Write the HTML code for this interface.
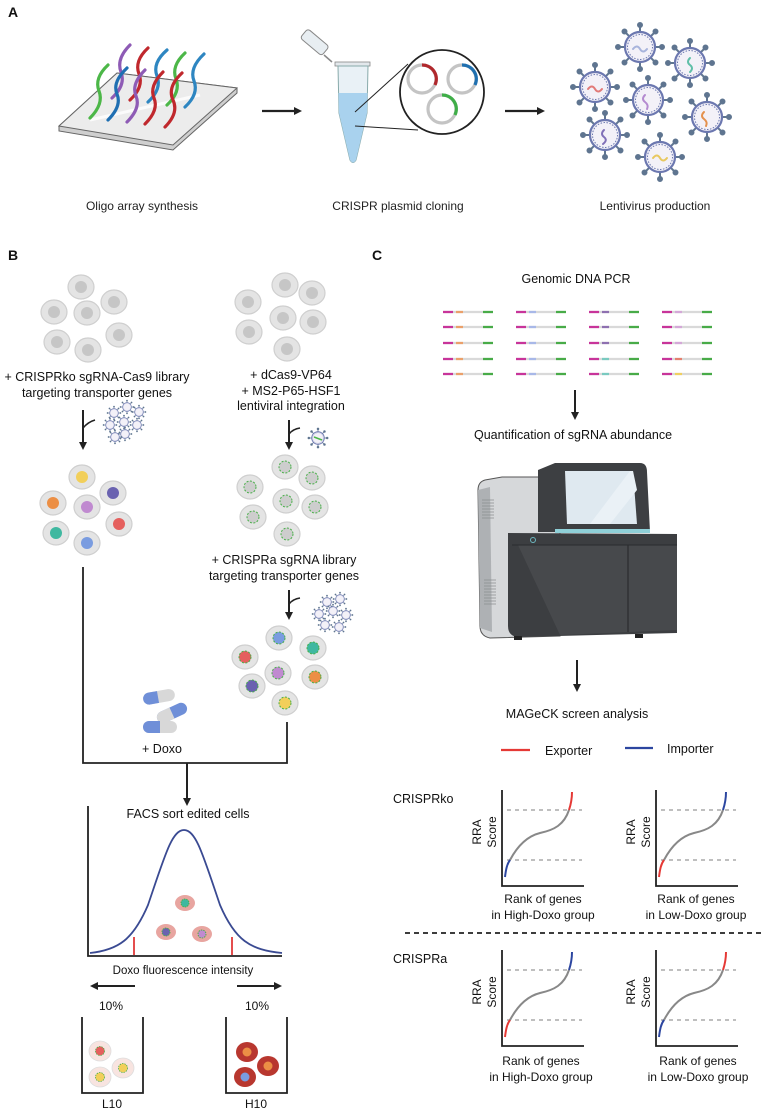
<!DOCTYPE html>
<html><head><meta charset="utf-8"><style>
html,body{margin:0;padding:0;background:#fff;}
svg{display:block;font-family:"Liberation Sans",sans-serif;}
</style></head><body>
<svg width="762" height="1110" viewBox="0 0 762 1110" xmlns="http://www.w3.org/2000/svg">
<defs>
<marker id="ah" markerWidth="8" markerHeight="8" refX="4" refY="4" orient="auto" markerUnits="userSpaceOnUse">
<path d="M0,0 L8,4 L0,8 Z" fill="#222"/></marker>
<symbol id="vir" viewBox="-24 -24 48 48" overflow="visible">
<g stroke="#5f7590" stroke-width="2" fill="#5f7590">
<line x1="0" y1="-15" x2="0" y2="-21"/><line x1="0" y1="15" x2="0" y2="21"/>
<line x1="-15" y1="0" x2="-21" y2="0"/><line x1="15" y1="0" x2="21" y2="0"/>
<line x1="10.6" y1="10.6" x2="15" y2="15"/><line x1="-10.6" y1="10.6" x2="-15" y2="15"/>
<line x1="10.6" y1="-10.6" x2="15" y2="-15"/><line x1="-10.6" y1="-10.6" x2="-15" y2="-15"/>
<circle cx="0" cy="-22" r="2"/><circle cx="0" cy="22" r="2"/><circle cx="-22" cy="0" r="2"/><circle cx="22" cy="0" r="2"/>
<circle cx="15.5" cy="15.5" r="2"/><circle cx="-15.5" cy="15.5" r="2"/><circle cx="15.5" cy="-15.5" r="2"/><circle cx="-15.5" cy="-15.5" r="2"/>
</g>
<circle r="15" fill="#f3f1f8" stroke="#6c78b0" stroke-width="2.2"/>
<circle r="12.5" fill="none" stroke="#6c78b0" stroke-width="1" stroke-dasharray="1.5,1.5"/>
</symbol>
<symbol id="cell" viewBox="-14 -13 28 26" overflow="visible">
<ellipse rx="13" ry="12" fill="#e4e4e4" stroke="#cfcfcf" stroke-width="1.2"/>
</symbol>
</defs>

<g font-weight="bold" font-size="14" fill="#111">
<text x="8" y="17">A</text><text x="8" y="260">B</text><text x="372" y="260">C</text>
</g>

<!-- ===== PANEL A ===== -->
<polygon points="59,126 117,73 237,88 237,93 173,150 59,131" fill="#cfcfcf" stroke="#666" stroke-width="1"/>
<polygon points="59,126 117,73 237,88 173,145" fill="#ececec" stroke="#666" stroke-width="1"/>
<line x1="90" y1="120" x2="200" y2="95" stroke="#fff" stroke-width="3" opacity="0.8"/>
<g fill="none" stroke-width="3.2" stroke-linecap="round">
<path d="M112,98 Q126,85 121,72 T130,45" stroke="#8e5bb5"/>
<path d="M130,100 Q144,87 139,74 T148,48" stroke="#c0282d"/>
<path d="M148,102 Q162,89 157,76 T167,50" stroke="#2e86c1"/>
<path d="M167,105 Q181,92 176,79 T185,53" stroke="#4cb748"/>
<path d="M185,107 Q199,94 194,81 T204,54" stroke="#2e86c1"/>
<path d="M90,118 Q104,104 99,91 T108,65" stroke="#4cb748"/>
<path d="M108,120 Q122,106 117,94 T127,68" stroke="#1f6fb2"/>
<path d="M127,122 Q141,108 136,96 T145,70" stroke="#8e5bb5"/>
<path d="M145,124 Q159,110 154,98 T163,72" stroke="#c0282d"/>
<path d="M165,127 Q179,113 173,100 T182,73" stroke="#c0282d"/>
</g>
<line x1="262" y1="111" x2="298" y2="111" stroke="#222" stroke-width="2.2" marker-end="url(#ah)"/>
<g transform="rotate(40 314 43)"><rect x="300" y="36" width="28" height="12" rx="3" fill="#e8eef2" stroke="#888"/></g>
<path d="M324,55 L332,62" stroke="#888" stroke-width="1.5"/>
<rect x="335" y="62" width="35" height="4" fill="#e3e8ec" stroke="#888" stroke-width="0.8"/>
<path d="M338,66 L368,66 L367,113 L356,160 Q353,165 350,160 L339,113 Z" fill="#e9f1f6" stroke="#8aa" stroke-width="1"/>
<path d="M338.5,93 L367.5,93 L367,113 L356,160 Q353,165 350,160 L339,113 Z" fill="#a9d2ee"/>
<line x1="355" y1="112" x2="408" y2="64" stroke="#222" stroke-width="1"/>
<line x1="355" y1="126" x2="418" y2="130" stroke="#222" stroke-width="1"/>
<circle cx="442" cy="92" r="42" fill="#fff" stroke="#222" stroke-width="1.8"/>
<g fill="none" stroke-width="3.2">
<circle cx="422" cy="79" r="14" stroke="#c4c4c4"/>
<circle cx="462" cy="79" r="14" stroke="#c4c4c4"/>
<circle cx="442" cy="109" r="14" stroke="#c4c4c4"/>
<path d="M422,65 A14,14 0 0 1 435,85" stroke="#b0282c"/>
<path d="M462,65 A14,14 0 0 1 475,85" stroke="#1f70b0"/>
<path d="M442,95 A14,14 0 0 1 455,115" stroke="#3fae48"/>
</g>
<line x1="505" y1="111" x2="541" y2="111" stroke="#222" stroke-width="2.2" marker-end="url(#ah)"/>
<g>
<use href="#vir" x="616" y="23" width="48" height="48"/>
<use href="#vir" x="666" y="39" width="48" height="48"/>
<use href="#vir" x="571" y="63" width="48" height="48"/>
<use href="#vir" x="624" y="76" width="48" height="48"/>
<use href="#vir" x="683" y="93" width="48" height="48"/>
<use href="#vir" x="581" y="111" width="48" height="48"/>
<use href="#vir" x="636" y="133" width="48" height="48"/>
</g>
<g fill="none" stroke-width="2" stroke-linecap="round">
<path d="M633,49 q4,-5 7,0 t7,0" stroke="#a8b4dc"/>
<path d="M690,58 q-4,4 0,7 t0,7" stroke="#5fbfa8"/>
<path d="M588,89 q4,-5 7,0 t7,0" stroke="#e27a78"/>
<path d="M645,95 q-4,4 0,7 t2,7" stroke="#b48ad0"/>
<path d="M704,112 q-4,4 0,7 t2,7" stroke="#e4914e"/>
<path d="M604,130 q-4,4 0,7 t-1,7" stroke="#8070b8"/>
<path d="M653,158 q4,-5 7,0 t7,0" stroke="#e8c860"/>
</g>
<g font-size="12" fill="#222" text-anchor="middle">
<text x="142" y="210">Oligo array synthesis</text>
<text x="398" y="210">CRISPR plasmid cloning</text>
<text x="655" y="210">Lentivirus production</text>
</g>

<!-- ===== PANEL B ===== -->
<g>
<use href="#cell" x="67" y="274" width="28" height="26"/>
<use href="#cell" x="40" y="299" width="28" height="26"/>
<use href="#cell" x="100" y="289" width="28" height="26"/>
<use href="#cell" x="73" y="300" width="28" height="26"/>
<use href="#cell" x="105" y="322" width="28" height="26"/>
<use href="#cell" x="43" y="329" width="28" height="26"/>
<use href="#cell" x="74" y="337" width="28" height="26"/>
</g>
<g fill="#c6c6c6">
<circle cx="81" cy="287" r="6"/><circle cx="54" cy="312" r="6"/><circle cx="114" cy="302" r="6"/>
<circle cx="87" cy="313" r="6"/><circle cx="119" cy="335" r="6"/><circle cx="57" cy="342" r="6"/><circle cx="88" cy="350" r="6"/>
</g>
<g font-size="12.5" fill="#111" text-anchor="middle">
<text x="97" y="381">+ CRISPRko sgRNA-Cas9 library</text>
<text x="97" y="397">targeting transporter genes</text>
</g>
<line x1="83" y1="410" x2="83" y2="446" stroke="#222" stroke-width="2" marker-end="url(#ah)"/>
<path d="M83,428 Q88,422 95,420" fill="none" stroke="#222" stroke-width="1.6"/>
<g>
<use href="#vir" x="107" y="406" width="14" height="14"/><use href="#vir" x="120" y="400" width="14" height="14"/>
<use href="#vir" x="132" y="405" width="14" height="14"/><use href="#vir" x="103" y="418" width="14" height="14"/>
<use href="#vir" x="117" y="415" width="14" height="14"/><use href="#vir" x="130" y="418" width="14" height="14"/>
<use href="#vir" x="118" y="427" width="14" height="14"/><use href="#vir" x="108" y="430" width="14" height="14"/>
</g>
<g>
<use href="#cell" x="68" y="464" width="28" height="26"/>
<use href="#cell" x="39" y="490" width="28" height="26"/>
<use href="#cell" x="99" y="480" width="28" height="26"/>
<use href="#cell" x="73" y="494" width="28" height="26"/>
<use href="#cell" x="105" y="511" width="28" height="26"/>
<use href="#cell" x="42" y="520" width="28" height="26"/>
<use href="#cell" x="73" y="530" width="28" height="26"/>
</g>
<circle cx="82" cy="477" r="6" fill="#f2cf5a"/><circle cx="53" cy="503" r="6" fill="#ec8f45"/>
<circle cx="113" cy="493" r="6" fill="#6a62b0"/><circle cx="87" cy="507" r="6" fill="#c08ad0"/>
<circle cx="119" cy="524" r="6" fill="#e5605e"/><circle cx="56" cy="533" r="6" fill="#3fb8a0"/>
<circle cx="87" cy="543" r="6" fill="#7a9ce0"/>
<g>
<use href="#cell" x="271" y="272" width="28" height="26"/>
<use href="#cell" x="234" y="289" width="28" height="26"/>
<use href="#cell" x="298" y="280" width="28" height="26"/>
<use href="#cell" x="269" y="305" width="28" height="26"/>
<use href="#cell" x="299" y="309" width="28" height="26"/>
<use href="#cell" x="235" y="319" width="28" height="26"/>
<use href="#cell" x="273" y="336" width="28" height="26"/>
</g>
<g fill="#c6c6c6">
<circle cx="285" cy="285" r="6"/><circle cx="248" cy="302" r="6"/><circle cx="312" cy="293" r="6"/>
<circle cx="283" cy="318" r="6"/><circle cx="313" cy="322" r="6"/><circle cx="249" cy="332" r="6"/><circle cx="287" cy="349" r="6"/>
</g>
<g font-size="12.5" fill="#111" text-anchor="middle">
<text x="291" y="379">+ dCas9-VP64</text>
<text x="291" y="395">+ MS2-P65-HSF1</text>
<text x="291" y="410">lentiviral integration</text>
</g>
<line x1="289" y1="420" x2="289" y2="446" stroke="#222" stroke-width="2" marker-end="url(#ah)"/>
<path d="M289,434 Q293,429 300,428" fill="none" stroke="#222" stroke-width="1.6"/>
<use href="#vir" x="308" y="428" width="20" height="20"/>
<path d="M314,437 l8,3" stroke="#4cb748" stroke-width="1.5"/>
<g>
<use href="#cell" x="271" y="454" width="28" height="26"/>
<use href="#cell" x="236" y="474" width="28" height="26"/>
<use href="#cell" x="298" y="465" width="28" height="26"/>
<use href="#cell" x="272" y="488" width="28" height="26"/>
<use href="#cell" x="301" y="494" width="28" height="26"/>
<use href="#cell" x="239" y="504" width="28" height="26"/>
<use href="#cell" x="273" y="521" width="28" height="26"/>
</g>
<g fill="#cdcdcd" stroke="#49b04a" stroke-width="1" stroke-dasharray="2,1.5">
<circle cx="285" cy="467" r="6"/><circle cx="250" cy="487" r="6"/><circle cx="312" cy="478" r="6"/>
<circle cx="286" cy="501" r="6"/><circle cx="315" cy="507" r="6"/><circle cx="253" cy="517" r="6"/><circle cx="287" cy="534" r="6"/>
</g>
<g font-size="12.5" fill="#111" text-anchor="middle">
<text x="284" y="564">+ CRISPRa sgRNA library</text>
<text x="284" y="580">targeting transporter genes</text>
</g>
<line x1="289" y1="590" x2="289" y2="616" stroke="#222" stroke-width="2" marker-end="url(#ah)"/>
<path d="M289,604 Q293,599 300,598" fill="none" stroke="#222" stroke-width="1.6"/>
<g>
<use href="#vir" x="320" y="595" width="14" height="14"/><use href="#vir" x="333" y="592" width="14" height="14"/>
<use href="#vir" x="312" y="607" width="14" height="14"/><use href="#vir" x="326" y="604" width="14" height="14"/>
<use href="#vir" x="339" y="608" width="14" height="14"/><use href="#vir" x="318" y="618" width="14" height="14"/>
<use href="#vir" x="332" y="620" width="14" height="14"/>
</g>
<g>
<use href="#cell" x="265" y="625" width="28" height="26"/>
<use href="#cell" x="231" y="644" width="28" height="26"/>
<use href="#cell" x="299" y="635" width="28" height="26"/>
<use href="#cell" x="264" y="660" width="28" height="26"/>
<use href="#cell" x="301" y="664" width="28" height="26"/>
<use href="#cell" x="238" y="673" width="28" height="26"/>
<use href="#cell" x="271" y="690" width="28" height="26"/>
</g>
<g stroke="#49b04a" stroke-width="1" stroke-dasharray="2,1.5">
<circle cx="279" cy="638" r="6" fill="#7a9ce0"/><circle cx="245" cy="657" r="6" fill="#e5605e"/>
<circle cx="313" cy="648" r="6" fill="#3fb8a0"/><circle cx="278" cy="673" r="6" fill="#c08ad0"/>
<circle cx="315" cy="677" r="6" fill="#ec8f45"/><circle cx="252" cy="686" r="6" fill="#6a62b0"/>
<circle cx="285" cy="703" r="6" fill="#f2cf5a"/>
</g>
<g>
<g transform="rotate(-10 158 697)"><rect x="143" y="691" width="32" height="12" rx="6" fill="#d8d8d8"/><path d="M149,691 h9 v12 h-9 a6,6 0 0 1 0,-12z" fill="#6f8fd8"/></g>
<g transform="rotate(-25 172 713)"><rect x="156" y="707" width="32" height="12" rx="6" fill="#6f8fd8"/><path d="M162,707 h10 v12 h-10 a6,6 0 0 1 0,-12z" fill="#d8d8d8"/></g>
<g><rect x="143" y="721" width="34" height="12" rx="6" fill="#d8d8d8"/><path d="M149,721 h11 v12 h-11 a6,6 0 0 1 0,-12z" fill="#6f8fd8"/></g>
</g>
<text x="162" y="753" font-size="12.5" fill="#111" text-anchor="middle">+ Doxo</text>
<polyline points="83,567 83,763 287,763 287,722" fill="none" stroke="#222" stroke-width="1.8"/>
<line x1="187" y1="763" x2="187" y2="802" stroke="#222" stroke-width="2" marker-end="url(#ah)"/>
<text x="188" y="818" font-size="12.5" fill="#111" text-anchor="middle">FACS sort edited cells</text>
<polyline points="88,806 88,956 282,956" fill="none" stroke="#222" stroke-width="1.8"/>
<path d="M90,953 C118,950 133,940 148,905 C165,855 172,830 184,830 C196,830 203,855 220,905 C235,940 250,950 282,953" fill="none" stroke="#3a4a92" stroke-width="1.8"/>
<line x1="134" y1="937" x2="134" y2="955" stroke="#d22" stroke-width="1.6"/>
<line x1="232" y1="937" x2="232" y2="955" stroke="#d22" stroke-width="1.6"/>
<ellipse cx="185" cy="903" rx="10" ry="8" fill="#e8a5a0"/><circle cx="185" cy="903" r="4" fill="#3fb8a0" stroke="#49b04a" stroke-dasharray="1.5,1"/>
<ellipse cx="166" cy="932" rx="10" ry="8" fill="#e8a5a0"/><circle cx="166" cy="932" r="4" fill="#6a62b0" stroke="#49b04a" stroke-dasharray="1.5,1"/>
<ellipse cx="202" cy="934" rx="10" ry="8" fill="#e8a5a0"/><circle cx="202" cy="934" r="4" fill="#c08ad0" stroke="#49b04a" stroke-dasharray="1.5,1"/>
<text x="183" y="974" font-size="11.5" fill="#111" text-anchor="middle">Doxo fluorescence intensity</text>
<line x1="135" y1="986" x2="94" y2="986" stroke="#222" stroke-width="2" marker-end="url(#ah)"/>
<line x1="237" y1="986" x2="278" y2="986" stroke="#222" stroke-width="2" marker-end="url(#ah)"/>
<text x="111" y="1010" font-size="12" fill="#111" text-anchor="middle">10%</text>
<text x="257" y="1010" font-size="12" fill="#111" text-anchor="middle">10%</text>
<polyline points="82,1017 82,1093 143,1093 143,1017" fill="none" stroke="#222" stroke-width="1.8"/>
<polyline points="226,1017 226,1093 287,1093 287,1017" fill="none" stroke="#222" stroke-width="1.8"/>
<g stroke="#ddd" stroke-width="0.8">
<ellipse cx="100" cy="1051" rx="11" ry="10" fill="#f8e4e0"/><ellipse cx="123" cy="1068" rx="11" ry="10" fill="#f8e4e0"/><ellipse cx="100" cy="1077" rx="11" ry="10" fill="#f8e4e0"/>
</g>
<circle cx="100" cy="1051" r="4.5" fill="#e5605e" stroke="#49b04a" stroke-width="0.8" stroke-dasharray="1.5,1"/>
<circle cx="123" cy="1068" r="4.5" fill="#f2cf5a" stroke="#49b04a" stroke-width="0.8" stroke-dasharray="1.5,1"/>
<circle cx="100" cy="1077" r="4.5" fill="#f2cf5a" stroke="#49b04a" stroke-width="0.8" stroke-dasharray="1.5,1"/>
<ellipse cx="247" cy="1052" rx="11" ry="10" fill="#b8372f"/><ellipse cx="268" cy="1066" rx="11" ry="10" fill="#b8372f"/><ellipse cx="245" cy="1077" rx="11" ry="10" fill="#b8372f"/>
<circle cx="247" cy="1052" r="4.5" fill="#ec8f45"/><circle cx="268" cy="1066" r="4.5" fill="#ec8f45"/><circle cx="245" cy="1077" r="4.5" fill="#7a9ce0"/>
<text x="112" y="1108" font-size="12" fill="#111" text-anchor="middle">L10</text>
<text x="256" y="1108" font-size="12" fill="#111" text-anchor="middle">H10</text>

<!-- ===== PANEL C ===== -->
<text x="576" y="283" font-size="12.5" fill="#111" text-anchor="middle">Genomic DNA PCR</text>
<g stroke-width="2.2" fill="none">
<g stroke="#d9d9d9"><path d="M443,312h50M443,327h50M443,343h50M443,359h50M443,374h50M516,312h50M516,327h50M516,343h50M516,359h50M516,374h50M589,312h50M589,327h50M589,343h50M589,359h50M589,374h50M662,312h50M662,327h50M662,343h50M662,359h50M662,374h50"/></g>
<g stroke="#c8349a"><path d="M443,312h10M443,327h10M443,343h10M443,359h10M443,374h10M516,312h10M516,327h10M516,343h10M516,359h10M516,374h10M589,312h10M589,327h10M589,343h10M589,359h10M589,374h10M662,312h10M662,327h10M662,343h10M662,359h10M662,374h10"/></g>
<g stroke="#48ab48"><path d="M483,312h10M483,327h10M483,343h10M483,359h10M483,374h10M556,312h10M556,327h10M556,343h10M556,359h10M556,374h10M629,312h10M629,327h10M629,343h10M629,359h10M629,374h10M702,312h10M702,327h10M702,343h10M702,359h10M702,374h10"/></g>
<path d="M456,312h7M456,327h7M456,343h7M456,359h7M456,374h7" stroke="#eba06a"/>
<path d="M529,312h7M529,327h7M529,343h7M529,359h7M529,374h7" stroke="#a8b8e8"/>
<path d="M602,312h7M602,327h7M602,343h7" stroke="#8e70b0"/>
<path d="M602,359h7M602,374h7" stroke="#7acac0"/>
<path d="M675,312h7M675,327h7M675,343h7" stroke="#d4a8d8"/>
<path d="M675,359h7" stroke="#e5806e"/>
<path d="M675,374h7" stroke="#f0d060"/>
</g>
<line x1="575" y1="390" x2="575" y2="416" stroke="#222" stroke-width="2" marker-end="url(#ah)"/>
<text x="573" y="439" font-size="12.5" fill="#111" text-anchor="middle">Quantification of sgRNA abundance</text>
<g>
<path d="M485,480 L502,477 L560,477 L560,636 L490,638 Q480,636 480,626 L478,490 Q478,482 485,480 Z" fill="#d6d8da" stroke="#555" stroke-width="1"/>
<path d="M478,490 L490,487 L492,632 L480,628 Z" fill="#aeb1b4"/>
<g stroke="#8a8d90" stroke-width="0.8">
<path d="M482,500h12M482,503h12M482,506h12M482,509h12M482,512h12M482,515h12M482,518h12"/>
<path d="M484,580h12M484,583h12M484,586h12M484,589h12M484,592h12M484,595h12M484,598h12M484,601h12M484,604h12"/>
</g>
<path d="M538,470 L555,463 L640,463 Q647,463 647,472 L650,532 L538,532 Z" fill="#3d3f42"/>
<path d="M565,471 L633,471 L637,524 L567,524 Z" fill="#dfe9f0"/>
<path d="M590,524 L630,471 L633,471 L637,490 L610,524 Z" fill="#eaf1f6"/>
<rect x="555" y="529" width="95" height="4" fill="#8fd0d8"/>
<path d="M508,533 L677,534 L677,633 L518,637 Q508,636 508,626 Z" fill="#3c3e41"/>
<path d="M518,545 L677,545 L677,630 L560,635 Z" fill="#4a4c4f" opacity="0.8"/>
<line x1="628" y1="545" x2="628" y2="632" stroke="#2a2c2e" stroke-width="1.2"/>
<line x1="512" y1="545" x2="677" y2="545" stroke="#2a2c2e" stroke-width="1"/>
<circle cx="533" cy="540" r="2.5" fill="none" stroke="#6cb8c0" stroke-width="1"/>
<rect x="514" y="636" width="8" height="4" fill="#222"/><rect x="635" y="634" width="8" height="4" fill="#222"/>
</g>
<line x1="577" y1="660" x2="577" y2="688" stroke="#222" stroke-width="2" marker-end="url(#ah)"/>
<text x="577" y="718" font-size="12.5" fill="#111" text-anchor="middle">MAGeCK screen analysis</text>
<line x1="501" y1="750" x2="530" y2="750" stroke="#e53935" stroke-width="2.2"/>
<text x="545" y="755" font-size="12.5" fill="#111">Exporter</text>
<line x1="625" y1="748" x2="653" y2="748" stroke="#2c46a0" stroke-width="2.2"/>
<text x="667" y="753" font-size="12.5" fill="#111">Importer</text>
<text x="393" y="803" font-size="12.5" fill="#111">CRISPRko</text>
<text x="393" y="963" font-size="12.5" fill="#111">CRISPRa</text>
<line x1="405" y1="933" x2="762" y2="933" stroke="#222" stroke-width="1.8" stroke-dasharray="5,4"/>

<g transform="translate(502,790)">
<polyline points="0,0 0,96 82,96" fill="none" stroke="#222" stroke-width="1.8"/>
<path d="M5,20h75M5,70h75" stroke="#999" stroke-width="1.2" stroke-dasharray="4,4"/>
<path d="M8,70 C16,55 26,46 38,43 C52,40 62,35 67,20" fill="none" stroke="#888" stroke-width="2"/>
<path d="M3,87 C4,79 5,74 8,70" fill="none" stroke="#2c46a0" stroke-width="2"/>
<path d="M67,20 C69,14 70,8 70,2" fill="none" stroke="#e53935" stroke-width="2"/>
<g font-size="12" fill="#111" text-anchor="middle">
<text transform="translate(-6,42) rotate(-90)">Score</text>
<text transform="translate(-21,42) rotate(-90)">RRA</text>
<text x="41" y="113">Rank of genes</text><text x="41" y="129">in High-Doxo group</text></g>
</g>
<g transform="translate(656,790)">
<polyline points="0,0 0,96 82,96" fill="none" stroke="#222" stroke-width="1.8"/>
<path d="M5,20h75M5,70h75" stroke="#999" stroke-width="1.2" stroke-dasharray="4,4"/>
<path d="M8,70 C16,55 26,46 38,43 C52,40 62,35 67,20" fill="none" stroke="#888" stroke-width="2"/>
<path d="M3,87 C4,79 5,74 8,70" fill="none" stroke="#e53935" stroke-width="2"/>
<path d="M67,20 C69,14 70,8 70,2" fill="none" stroke="#2c46a0" stroke-width="2"/>
<g font-size="12" fill="#111" text-anchor="middle">
<text transform="translate(-6,42) rotate(-90)">Score</text>
<text transform="translate(-21,42) rotate(-90)">RRA</text>
<text x="40" y="113">Rank of genes</text><text x="40" y="129">in Low-Doxo group</text></g>
</g>
<g transform="translate(502,950)">
<polyline points="0,0 0,96 82,96" fill="none" stroke="#222" stroke-width="1.8"/>
<path d="M5,20h75M5,70h75" stroke="#999" stroke-width="1.2" stroke-dasharray="4,4"/>
<path d="M8,70 C16,55 26,46 38,43 C52,40 62,35 67,20" fill="none" stroke="#888" stroke-width="2"/>
<path d="M3,87 C4,79 5,74 8,70" fill="none" stroke="#e53935" stroke-width="2"/>
<path d="M67,20 C69,14 70,8 70,2" fill="none" stroke="#2c46a0" stroke-width="2"/>
<g font-size="12" fill="#111" text-anchor="middle">
<text transform="translate(-6,42) rotate(-90)">Score</text>
<text transform="translate(-21,42) rotate(-90)">RRA</text>
<text x="39" y="115">Rank of genes</text><text x="39" y="131">in High-Doxo group</text></g>
</g>
<g transform="translate(656,950)">
<polyline points="0,0 0,96 82,96" fill="none" stroke="#222" stroke-width="1.8"/>
<path d="M5,20h75M5,70h75" stroke="#999" stroke-width="1.2" stroke-dasharray="4,4"/>
<path d="M8,70 C16,55 26,46 38,43 C52,40 62,35 67,20" fill="none" stroke="#888" stroke-width="2"/>
<path d="M3,87 C4,79 5,74 8,70" fill="none" stroke="#2c46a0" stroke-width="2"/>
<path d="M67,20 C69,14 70,8 70,2" fill="none" stroke="#e53935" stroke-width="2"/>
<g font-size="12" fill="#111" text-anchor="middle">
<text transform="translate(-6,42) rotate(-90)">Score</text>
<text transform="translate(-21,42) rotate(-90)">RRA</text>
<text x="42" y="115">Rank of genes</text><text x="42" y="131">in Low-Doxo group</text></g>
</g>
</svg>
</body></html>
